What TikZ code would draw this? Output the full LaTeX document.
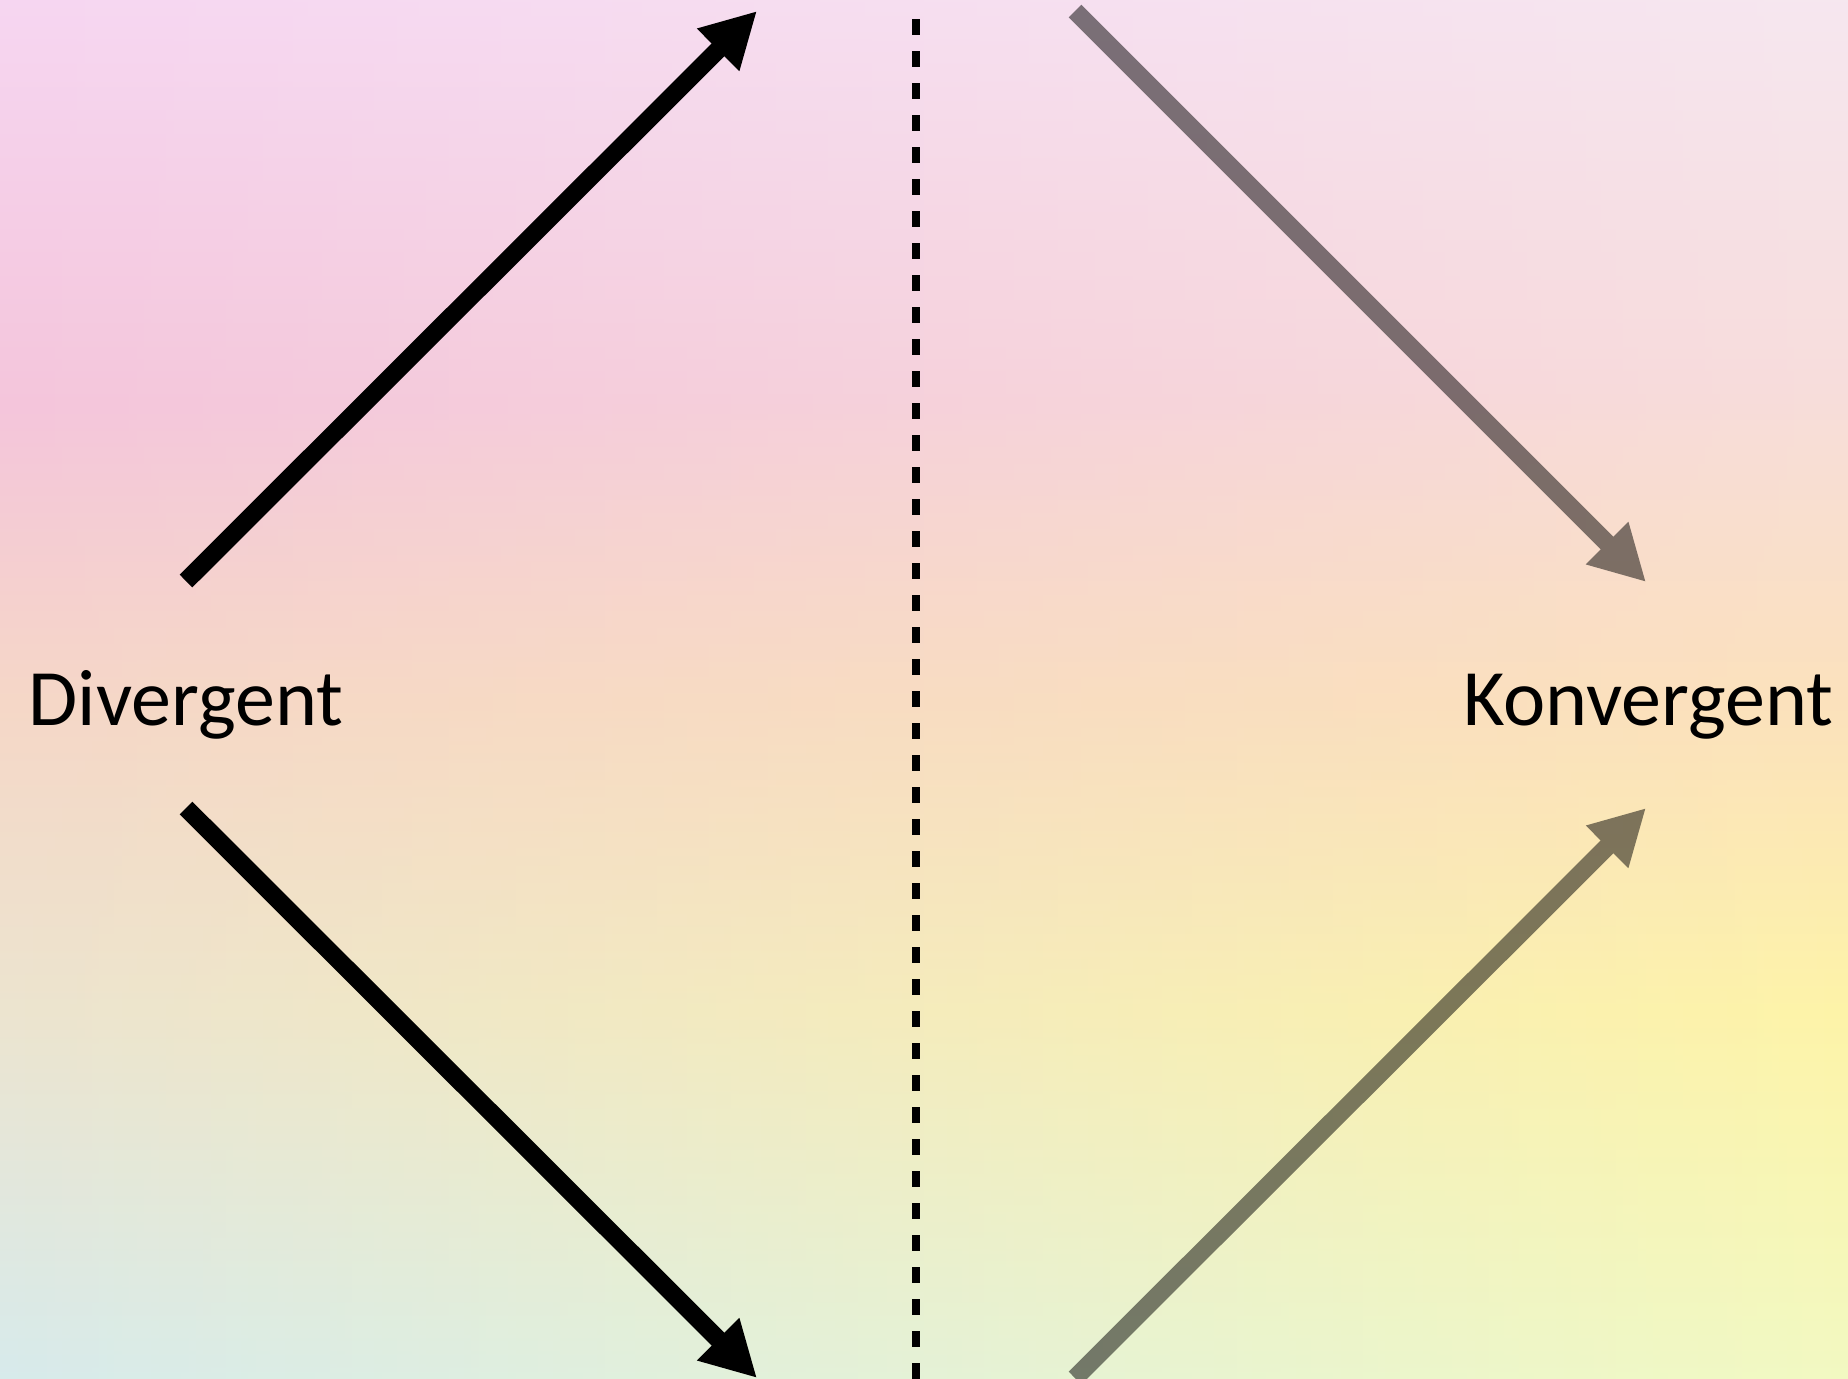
\documentclass[tikz,border=0pt]{standalone}
\usepackage{fontspec}
\setmainfont{Carlito}
\usetikzlibrary{arrows.meta,fadings}

\definecolor{lA}{RGB}{246,215,243}
\definecolor{lB}{RGB}{244,197,220}
\definecolor{lC}{RGB}{245,215,200}
\definecolor{lD}{RGB}{236,228,208}
\definecolor{lE}{RGB}{214,235,238}
\definecolor{rA}{RGB}{246,232,240}
\definecolor{rB}{RGB}{248,222,220}
\definecolor{rC}{RGB}{252,226,188}
\definecolor{rD}{RGB}{254,244,168}
\definecolor{rE}{RGB}{242,250,195}

\pgfdeclareverticalshading{bgleft}{100bp}{color(0bp)=(lE); color(25bp)=(lE); color(38.7bp)=(lD); color(49.6bp)=(lC); color(60bp)=(lB); color(75bp)=(lA); color(100bp)=(lA)}
\pgfdeclareverticalshading{bgright}{100bp}{color(0bp)=(rE); color(25bp)=(rE); color(38.7bp)=(rD); color(49.6bp)=(rC); color(61bp)=(rB); color(75bp)=(rA); color(100bp)=(rA)}

\tikzfading[name=fadeR, left color=transparent!100, right color=transparent!0]

\begin{document}
\begin{tikzpicture}[x=1pt,y=-1pt,
  lbl/.style={anchor=base, inner sep=0pt, font=\fontsize{80}{96}\selectfont},
  arr/.style={line width=18pt, -{Triangle[length=55pt,width=56pt]}},
  divider/.style={line width=8pt, dash pattern=on 16pt off 16pt}]
\useasboundingbox (0,0) rectangle (1848,1379);
\begin{scope}
\clip (0,0) rectangle (1848,1379);
\shade[shading=bgleft] (-20,-20) rectangle (1868,1399);
\shade[shading=bgright, path fading=fadeR] (-20,-20) rectangle (1868,1399);
\end{scope}

\node[lbl] (div) at (186,725) {Divergent};
\node[lbl] (konv) at (1648,725) {Konvergent};

\coordinate (a1s) at (186,581);  \coordinate (a1e) at (757,11);
\coordinate (a2s) at (186,808);  \coordinate (a2e) at (757,1378);
\coordinate (a3s) at (1075,11);  \coordinate (a3e) at (1646,582);
\coordinate (a4s) at (1075,1378); \coordinate (a4e) at (1646,808);
\coordinate (dtop) at (916,19);  \coordinate (dbot) at (916,1379);

\draw[arr] (a1s) -- (a1e);
\draw[arr] (a2s) -- (a2e);
\begin{scope}[transparency group, opacity=0.5]
\draw[arr] (a3s) -- (a3e);
\end{scope}
\begin{scope}[transparency group, opacity=0.5]
\draw[arr] (a4s) -- (a4e);
\end{scope}
\draw[divider] (dtop) -- (dbot);
\end{tikzpicture}
\end{document}
